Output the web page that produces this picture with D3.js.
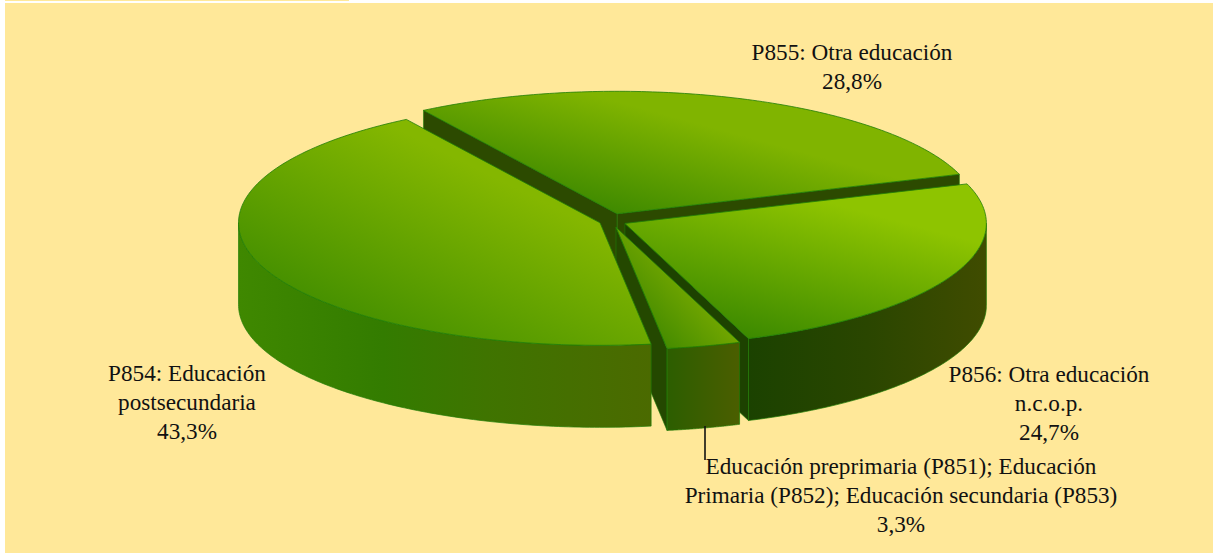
<!DOCTYPE html>
<html>
<head>
<meta charset="utf-8">
<script src="https://cdnjs.cloudflare.com/ajax/libs/d3/7.8.5/d3.min.js"></script>
<style>
  body { margin: 0; background: #fff; }
  svg { display: block; }
  text { font-family: "Liberation Serif", serif; font-size: 23.2px; fill: #111; text-anchor: middle; }
</style>
</head>
<body>
<script>
// values in drawing order, clockwise from the back left cut
const codes = ["P855", "P856", "P851-3", "P854"];
const shares = [28.8, 24.7, 3.3, 43.3];
const labelLines = [
  ["P855: Otra educación", "28,8%"],
  ["P856: Otra educación", "n.c.o.p.", "24,7%"],
  ["Educación preprimaria (P851); Educación", "Primaria (P852); Educación secundaria (P853)", "3,3%"],
  ["P854: Educación", "postsecundaria", "43,3%"]
];

const width = 1213, height = 553;
const center = {x: 612.7, y: 220.4};
const rx = 361.5, ry = 122.5, depth = 82;
const explodeX = 13.5, explodeY = 7;
const startDeg = -32.4;
const labelPos = [[852, 60], [1049, 382], [901, 474], [187, 381]];
const lineGap = 29;

// x1,y1,x2,y2 in page pixels plus the stops of each top face
const topShade = {
  P855: [600, 215, 630, 105, "#3c8800", "#80b400"],
  P856: [760, 345, 800, 195, "#3a8800", "#8ec400"],
  "P851-3": [665, 345, 715, 300, "#468c00", "#78aa00"],
  P854: [330, 345, 430, 145, "#3c8a00", "#84b700"]
};
const sideShade = {
  P856: [[0, "#1b4200"], [0.5, "#2a4600"], [1, "#404c00"]],
  "P851-3": [[0, "#2c5e00"], [1, "#4b5e00"]],
  P854: [[0, "#3f8800"], [0.35, "#337c00"], [0.6, "#3f7400"], [1, "#4b6a00"]]
};
const wallColor = {P855: "#2c4a00", P856: "#1d4200", "P851-3": "#244800", P854: "#2c4a00"};
const edge = "#1f7d06";

const svg = d3.select("body").append("svg").attr("width", width).attr("height", height);
const defs = svg.append("defs");

svg.append("rect").attr("x", 5).attr("y", 3).attr("width", width - 5).attr("height", height - 3).attr("fill", "#ffe899");
svg.append("rect").attr("x", 5).attr("y", 0).attr("width", 344).attr("height", 1).attr("fill", "#ffe899");

const pie = d3.pie().sort(null).value(d => d)
  .startAngle(startDeg * Math.PI / 180)
  .endAngle((startDeg + 360) * Math.PI / 180);
const arcs = pie(shares);

const xs = d3.scaleLinear().domain([-1, 1]).range([-rx, rx]);
const ys = d3.scaleLinear().domain([-1, 1]).range([-ry, ry]);
const line = d3.line().x(d => d[0]).y(d => d[1]);

function rimPoint(o, a, drop) {
  return [o.x + xs(Math.sin(a)), o.y + ys(-Math.cos(a)) + drop];
}
function rim(o, a0, a1, drop) {
  return d3.range(0, 121).map(i => rimPoint(o, a0 + (a1 - a0) * i / 120, drop));
}

arcs.forEach((d, i) => {
  const code = codes[i];
  const mid = (d.startAngle + d.endAngle) / 2;
  const o = {x: center.x + Math.sin(mid) * explodeX, y: center.y - Math.cos(mid) * explodeY};
  const g = svg.append("g").attr("class", "slice");

  // cut walls, only the ones turned to the viewer
  [[d.startAngle, d.startAngle - Math.PI / 2], [d.endAngle, d.endAngle + Math.PI / 2]].forEach(([a, n]) => {
    if (Math.cos(n) >= 0) return;
    const p = rimPoint(o, a, 0), q = rimPoint(o, a, depth);
    g.append("path")
      .attr("d", line([[o.x, o.y], p, q, [o.x, o.y + depth]]) + "Z")
      .attr("fill", wallColor[code])
      .attr("stroke", edge).attr("stroke-width", 0.6);
  });

  // outer wall, front half of the ellipse
  const a0 = Math.max(d.startAngle, Math.PI / 2), a1 = Math.min(d.endAngle, 3 * Math.PI / 2);
  if (a1 > a0) {
    const top = rim(o, a0, a1, 0), bottom = rim(o, a1, a0, depth);
    const id = "side" + i;
    const xr = d3.extent(top, p => p[0]);
    const lg = defs.append("linearGradient").attr("id", id)
      .attr("gradientUnits", "userSpaceOnUse")
      .attr("x1", xr[0]).attr("x2", xr[1]).attr("y1", 0).attr("y2", 0);
    sideShade[code].forEach(s => lg.append("stop").attr("offset", s[0]).attr("stop-color", s[1]));
    g.append("path")
      .attr("d", line(top.concat(bottom)) + "Z")
      .attr("fill", `url(#${id})`)
      .attr("stroke", edge).attr("stroke-width", 0.7);
  }

  // top face
  const sh = topShade[code];
  const tg = defs.append("linearGradient").attr("id", "top" + i)
    .attr("gradientUnits", "userSpaceOnUse")
    .attr("x1", sh[0]).attr("y1", sh[1]).attr("x2", sh[2]).attr("y2", sh[3]);
  tg.append("stop").attr("offset", 0).attr("stop-color", sh[4]);
  tg.append("stop").attr("offset", 1).attr("stop-color", sh[5]);
  g.append("path")
    .attr("d", line([[o.x, o.y]].concat(rim(o, d.startAngle, d.endAngle, 0))) + "Z")
    .attr("fill", `url(#top${i})`)
    .attr("stroke", edge).attr("stroke-width", 0.8);
});

// leader of the small slice
svg.append("line")
  .attr("x1", 705).attr("x2", 705).attr("y1", 426).attr("y2", 460)
  .attr("stroke", "#111").attr("stroke-width", 1.6);

labelLines.forEach((lines, i) => {
  lines.forEach((t, k) => {
    svg.append("text")
      .attr("x", labelPos[i][0])
      .attr("y", labelPos[i][1] + k * lineGap)
      .text(t);
  });
});
</script>
</body>
</html>
